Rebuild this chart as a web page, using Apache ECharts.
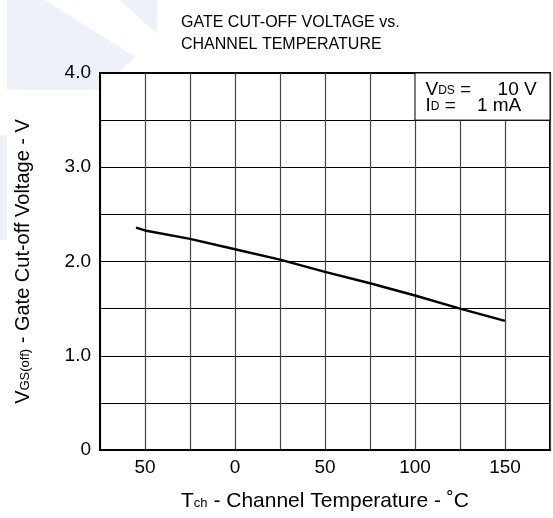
<!DOCTYPE html>
<html>
<head>
<meta charset="utf-8">
<script src="https://cdn.jsdelivr.net/npm/echarts@6/dist/echarts.min.js"></script>
<style>
html,body{margin:0;padding:0;background:#fff;}
#chart{width:553px;height:518px;}
</style>
</head>
<body>
<div id="chart"></div>
<script>
// Data
var temps = [-55, -50, -25, 0, 25, 50, 75, 100, 125, 150];
var vgsOff = [2.36, 2.33, 2.24, 2.13, 2.02, 1.89, 1.77, 1.64, 1.50, 1.37];
var xTickValues = [-50, 0, 50, 100, 150];
var xTickTexts = ['50', '0', '50', '100', '150'];
var yTickValues = [0, 1, 2, 3, 4];
var yTickTexts = ['0', '1.0', '2.0', '3.0', '4.0'];
var titleLines = ['GATE CUT-OFF VOLTAGE vs.', 'CHANNEL TEMPERATURE'];

var FONT = '"Liberation Sans", Arial, sans-serif';
var chart = echarts.init(document.getElementById('chart'));

function lookup(vals, texts, v) {
  for (var i = 0; i < vals.length; i++) {
    if (Math.abs(vals[i] - v) < 1e-6) return texts[i];
  }
  return '';
}

function nameRich(fs, sfs) {
  return {
    a: { fontSize: fs, color: '#000', fontFamily: FONT, lineHeight: 24 },
    s: { fontSize: sfs, color: '#000', fontFamily: FONT, lineHeight: 24, padding: [4, 0, 0, 0] }
  };
}

var option = {
  backgroundColor: '#fff',
  animation: false,
  textStyle: { fontFamily: FONT },
  title: {
    text: titleLines.join('\n'),
    left: 176,
    top: 7,
    textStyle: { fontFamily: FONT, fontSize: 16, fontWeight: 'normal', color: '#000', lineHeight: 22 }
  },
  graphic: [
    { type: 'polygon', z: -10, silent: true, shape: { points: [[7,0],[45,0],[135,57],[100,90],[7,90]] }, style: { fill: '#eef0fa' } },
    { type: 'polygon', z: -10, silent: true, shape: { points: [[120,0],[157,0],[157,34]] }, style: { fill: '#eef0fa' } },
    { type: 'polygon', z: -10, silent: true, shape: { points: [[0,135],[7,135],[7,240],[0,240]] }, style: { fill: '#eef0fa' } }
  ],
  grid: {
    left: 100, right: 3, top: 73, bottom: 68,
    containLabel: false,
    outerBoundsMode: 'none',
    show: true, backgroundColor: '#fff', borderColor: '#000', borderWidth: 2
  },
  xAxis: {
    type: 'value',
    min: -75, max: 175, interval: 25,
    axisLine: { show: true, onZero: false, lineStyle: { color: '#000', width: 2 } },
    axisTick: { show: false },
    axisLabel: {
      show: true, margin: 8, fontSize: 19, color: '#000', fontFamily: FONT,
      showMinLabel: true, showMaxLabel: true, hideOverlap: false,
      formatter: function (v) { return lookup(xTickValues, xTickTexts, v); }
    },
    splitLine: { show: true, lineStyle: { color: '#444', width: 1.2 } },
    name: '{a|T}{s|ch}{a| - Channel Temperature - ˚C}',
    nameLocation: 'middle',
    nameGap: 39,
    nameTextStyle: { color: '#000', fontFamily: FONT, rich: nameRich(21, 13) }
  },
  yAxis: {
    type: 'value',
    min: 0, max: 4, interval: 0.5,
    axisLine: { show: true, onZero: false, lineStyle: { color: '#000', width: 2 } },
    axisTick: { show: false },
    axisLabel: {
      show: true, margin: 9, fontSize: 19, color: '#000', fontFamily: FONT,
      hideOverlap: false,
      formatter: function (v) { return lookup(yTickValues, yTickTexts, v); }
    },
    splitLine: { show: true, lineStyle: { color: '#000', width: 1 } },
    name: '{a|V}{s|GS(off)}{a| - Gate Cut-off Voltage - V}',
    nameLocation: 'middle',
    nameRotate: 90,
    nameGap: 65,
    nameTextStyle: { color: '#000', fontFamily: FONT, rich: nameRich(20, 13) }
  },
  series: [{
    type: 'line',
    data: temps.map(function (t, i) { return [t, vgsOff[i]]; }),
    showSymbol: false,
    lineStyle: { color: '#000', width: 2.5 },
    itemStyle: { color: '#000' },
    silent: true,
    markArea: {
      silent: true,
      itemStyle: { color: '#fff', borderColor: '#000', borderWidth: 1, opacity: 1 },
      label: {
        show: true,
        position: 'insideTopLeft',
        offset: [6, 4],
        color: '#000',
        fontFamily: FONT,
        formatter: '{a|V}{s|DS}{a| =     10 V}\n{a|I}{s|D}{a| =    1 mA}',
        rich: {
          a: { fontSize: 19, color: '#000', fontFamily: FONT, lineHeight: 16 },
          s: { fontSize: 12, color: '#000', fontFamily: FONT, lineHeight: 16, padding: [3, 0, 0, 0] }
        }
      },
      data: [[{ xAxis: 100, yAxis: 3.5 }, { xAxis: 175, yAxis: 4 }]]
    }
  }]
};
chart.setOption(option);
</script>
</body>
</html>
